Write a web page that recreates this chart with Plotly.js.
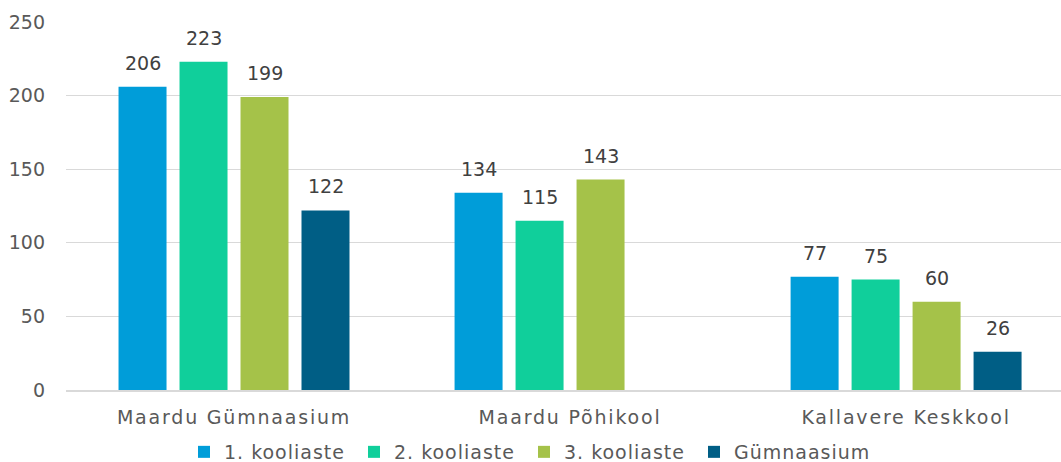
<!DOCTYPE html>
<html>
<head>
<meta charset="utf-8">
<script src="https://cdn.plot.ly/plotly-3.0.1.min.js"></script>
<style>
html,body{margin:0;padding:0;background:#fff}
#chart{width:1061px;height:462px}
.xtick text{letter-spacing:1.8px}
.legendtext{letter-spacing:1px}
.legend .scrollbox{clip-path:none !important}
</style>
</head>
<body>
<div id="chart"></div>
<script>
const categories = ["Maardu Gümnaasium", "Maardu Põhikool", "Kallavere Keskkool"];
const seriesNames = ["1. kooliaste", "2. kooliaste", "3. kooliaste", "Gümnaasium"];
const kooliaste1 = [206, 134, 77];
const kooliaste2 = [223, 115, 75];
const kooliaste3 = [199, 143, 60];
const gymnaasium = [122, null, 26];
const colors = ["#009DD9", "#10CF9B", "#A5C249", "#005E85"];

const FONT = "DejaVu Sans, sans-serif";
const values = [kooliaste1, kooliaste2, kooliaste3, gymnaasium];
const traces = values.map((v, i) => ({
  type: "bar",
  name: seriesNames[i],
  x: categories,
  y: v,
  marker: {color: colors[i]},
  hoverinfo: "skip"
}));

const W = 1061, H = 462, ML = 66, MR = 0, MT = 22, MB = 72;
const xRange = [-0.5, 2.461];
const bargap = 0.274, bargroupgap = 0.213;
const catPx = (W - ML - MR) / (xRange[1] - xRange[0]);
const slotPx = catPx * (1 - bargap) / values.length;

const annotations = [];
values.forEach((v, i) => {
  v.forEach((d, j) => {
    if (d === null) return;
    annotations.push({
      x: categories[j], y: d, xref: "x", yref: "y",
      xshift: (i - (values.length - 1) / 2) * slotPx,
      yshift: 11,
      yanchor: "bottom", xanchor: "center",
      text: String(d), showarrow: false,
      font: {family: FONT, size: 19, color: "#404040"}
    });
  });
});

const layout = {
  width: W, height: H,
  margin: {l: ML, r: MR, t: MT, b: MB, autoexpand: false},
  paper_bgcolor: "#fff", plot_bgcolor: "#fff",
  barmode: "group",
  bargap: bargap,
  bargroupgap: bargroupgap,
  font: {family: FONT, size: 19, color: "#595959"},
  annotations: annotations,
  xaxis: {
    range: xRange,
    showgrid: false,
    showline: true, linecolor: "#D9D9D9", linewidth: 1.5,
    ticks: "",
    ticklabelstandoff: 10,
    automargin: false,
    tickfont: {family: FONT, size: 19, color: "#595959"}
  },
  yaxis: {
    range: [0, 250],
    tickvals: [0, 50, 100, 150, 200, 250],
    showgrid: true, gridcolor: "#D9D9D9", gridwidth: 1,
    zeroline: false,
    showline: false,
    ticks: "",
    ticklabelstandoff: 20,
    automargin: false,
    tickfont: {family: FONT, size: 19, color: "#595959"}
  },
  showlegend: true,
  legend: {
    orientation: "h",
    x: (184 - ML) / (W - ML - MR), xanchor: "left",
    y: -(452 - (H - MB)) / (H - MT - MB), yanchor: "middle",
    font: {family: FONT, size: 19, color: "#595959"},
    entrywidth: 125, entrywidthmode: "pixels",
    itemwidth: 30,
    tracegroupgap: 0
  }
};

Plotly.newPlot("chart", traces, layout, {staticPlot: true, displayModeBar: false});
</script>
</body>
</html>
